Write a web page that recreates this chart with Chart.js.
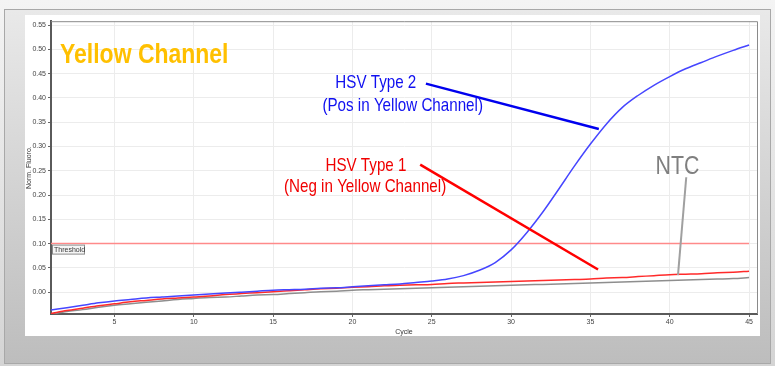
<!DOCTYPE html>
<html>
<head>
<meta charset="utf-8">
<script src="https://cdn.jsdelivr.net/npm/chart.js@4.4.0/dist/chart.umd.min.js"></script>
<style>
  body { margin:0; width:775px; height:366px; background:linear-gradient(#f4f4f4,#d4d4d4); position:relative; overflow:hidden; }
  #panel { position:absolute; left:4px; top:9px; width:767px; height:355px; background:linear-gradient(#e9e9e9,#bdbdbd); border:1px solid #a8a8a8; box-sizing:border-box; }
  #box { position:absolute; left:25px; top:15px; width:735px; height:321px; background:#fff; }
</style>
</head>
<body>
<div id="panel"></div>
<div id="box"><canvas id="chart" width="735" height="321"></canvas></div>
<script>
var cycles = [1, 2, 3, 4, 5, 6, 7, 8, 9, 10, 11, 12, 13, 14, 15, 16, 17, 18, 19, 20,
    21, 22, 23, 24, 25, 26, 27, 28, 29, 30, 31, 32, 33, 34, 35, 36, 37, 38, 39, 40,
    41, 42, 43, 44, 45];

// HSV Type 2 - positive in yellow channel
var hsv2 = [-0.037, -0.032, -0.027, -0.022, -0.018, -0.015, -0.012, -0.010, -0.008, -0.006,
    -0.004, -0.002, 0.000, 0.002, 0.004, 0.005, 0.006, 0.008, 0.009, 0.011,
    0.013, 0.015, 0.017, 0.020, 0.023, 0.027, 0.034, 0.045, 0.061, 0.087,
    0.123, 0.165, 0.212, 0.260, 0.305, 0.346, 0.380, 0.405, 0.426, 0.444,
    0.460, 0.473, 0.486, 0.498, 0.509];

// HSV Type 1 - negative
var hsv1 = [-0.044, -0.038, -0.033, -0.028, -0.024, -0.020, -0.017, -0.014, -0.012, -0.010,
    -0.008, -0.005, -0.003, -0.001, 0.001, 0.003, 0.005, 0.007, 0.008, 0.010,
    0.011, 0.013, 0.014, 0.015, 0.016, 0.018, 0.019, 0.020, 0.021, 0.022,
    0.023, 0.024, 0.025, 0.026, 0.027, 0.029, 0.030, 0.032, 0.034, 0.036,
    0.037, 0.038, 0.040, 0.041, 0.043];

// no template control
var ntc = [-0.045, -0.040, -0.036, -0.031, -0.027, -0.024, -0.021, -0.018, -0.015, -0.013,
    -0.011, -0.010, -0.008, -0.006, -0.005, -0.003, -0.001, 0.001, 0.002, 0.004,
    0.005, 0.006, 0.007, 0.008, 0.009, 0.010, 0.011, 0.012, 0.013, 0.014,
    0.015, 0.016, 0.017, 0.018, 0.019, 0.020, 0.021, 0.022, 0.023, 0.024,
    0.025, 0.026, 0.027, 0.028, 0.030];

var threshold = 0.10;
var yTicks = [0.00, 0.05, 0.10, 0.15, 0.20, 0.25, 0.30, 0.35, 0.40, 0.45, 0.50, 0.55];
var xTicks = [5, 10, 15, 20, 25, 30, 35, 40, 45];

function points(values) {
    return values.map((v, i) => ({x: cycles[i], y: v}));
}

// text drawn squeezed sideways, the original uses a narrow font
function narrowText(ctx, text, x, y, size, bold, color, align) {
    ctx.save();
    ctx.font = (bold ? 'bold ' : '') + size + 'px "Liberation Sans", Arial, sans-serif';
    ctx.fillStyle = color;
    ctx.textBaseline = 'alphabetic';
    ctx.translate(x, y);
    ctx.scale(0.82, 1);
    ctx.textAlign = align || 'left';
    ctx.fillText(text, 0, 0);
    ctx.restore();
}

var notes = {
    id: 'notes',
    beforeDatasetsDraw(chart) {
        let ctx = chart.ctx, a = chart.chartArea;
        ctx.save();
        ctx.strokeStyle = '#8a8a8a';
        ctx.lineWidth = 1;
        ctx.beginPath();
        ctx.moveTo(a.left, a.top + 0.5);
        ctx.lineTo(a.right + 0.5, a.top + 0.5);
        ctx.lineTo(a.right + 0.5, a.bottom);
        ctx.stroke();
        ctx.restore();
    },
    afterDatasetsDraw(chart) {
        let ctx = chart.ctx, a = chart.chartArea;
        let xs = chart.scales.x, ys = chart.scales.y;
        let px = c => xs.getPixelForValue(c);
        let py = v => ys.getPixelForValue(v);

        // threshold tag
        let ty = py(threshold);
        ctx.save();
        ctx.fillStyle = '#f6f6f6';
        ctx.strokeStyle = '#8c8c8c';
        ctx.lineWidth = 1;
        ctx.fillRect(a.left + 1, ty + 1, 33, 10);
        ctx.strokeRect(a.left + 1.5, ty + 1.5, 32, 9);
        ctx.fillStyle = '#333';
        ctx.font = '7px "Liberation Sans", Arial, sans-serif';
        ctx.textBaseline = 'middle';
        ctx.fillText('Threshold', a.left + 3, ty + 6.5);
        ctx.restore();

        narrowText(ctx, 'Yellow Channel', px(1.57), py(0.472), 28, true, '#ffc000');

        let pointers = [
            [24.63, 0.4295, 35.53, 0.336, '#0000ee', 2.5],
            [24.27, 0.2627, 35.48, 0.0466, '#ff0000', 2.5],
            [41.04, 0.2366, 40.52, 0.0349, '#a0a0a0', 2]
        ];
        pointers.forEach(p => {
            ctx.save();
            ctx.strokeStyle = p[4];
            ctx.lineWidth = p[5];
            ctx.beginPath();
            ctx.moveTo(px(p[0]), py(p[1]));
            ctx.lineTo(px(p[2]), py(p[3]));
            ctx.stroke();
            ctx.restore();
        });

        narrowText(ctx, 'HSV Type 2', px(18.92), py(0.4214), 18.5, false, '#1010f0');
        narrowText(ctx, '(Pos in Yellow Channel)', px(18.11), py(0.3735), 18.5, false, '#1010f0');
        narrowText(ctx, 'HSV Type 1', px(18.30), py(0.2489), 18.5, false, '#f00000');
        narrowText(ctx, '(Neg in Yellow Channel)', px(25.91), py(0.2058), 18.5, false, '#f00000', 'right');
        narrowText(ctx, 'NTC', px(39.11), py(0.2436), 26, false, '#7f7f7f');
    }
};

var tickFont = {family: '"Liberation Sans", Arial, sans-serif', size: 7};

var ctx = document.getElementById('chart');

var myChart = new Chart(ctx, {
    type: 'line',
    data: {
        datasets: [{
            label: 'HSV Type 2',
            data: points(hsv2),
            borderColor: '#4646ff',
            borderWidth: 1.5
        }, {
            label: 'HSV Type 1',
            data: points(hsv1),
            borderColor: '#ff2a2a',
            borderWidth: 1.5
        }, {
            label: 'NTC',
            data: points(ntc),
            borderColor: '#8e8e8e',
            borderWidth: 1.5
        }, {
            label: 'Threshold',
            data: [{x: cycles[0], y: threshold}, {x: cycles[cycles.length - 1], y: threshold}],
            borderColor: '#ff8a8a',
            borderWidth: 1.5
        }]
    },
    options: {
        responsive: false,
        animation: false,
        cubicInterpolationMode: 'monotone',
        elements: {point: {radius: 0}},
        layout: {padding: {top: 5, right: 3, left: 0, bottom: 0}},
        plugins: {
            legend: {display: false},
            tooltip: {enabled: false}
        },
        scales: {
            x: {
                type: 'linear',
                min: 1,
                max: 45.5,
                afterBuildTicks: s => { s.ticks = xTicks.map(v => ({value: v})); },
                afterFit: s => { s.height = 22; },
                ticks: {font: tickFont, color: '#444', padding: 1, maxRotation: 0, autoSkip: false},
                grid: {color: '#ececec', tickColor: '#666', tickLength: 3},
                border: {color: '#5a5a5a', width: 2},
                title: {display: true, text: 'Cycle', font: tickFont, color: '#333', padding: {top: 0, bottom: 0}}
            },
            y: {
                min: -0.045,
                max: 0.558,
                afterBuildTicks: s => { s.ticks = yTicks.map(v => ({value: v})); },
                afterFit: s => { s.width = 26; },
                ticks: {font: tickFont, color: '#444', padding: 2, callback: v => v.toFixed(2)},
                grid: {color: '#ececec', tickColor: '#666', tickLength: 3},
                border: {color: '#5a5a5a', width: 2},
                title: {display: true, text: 'Norm. Fluoro.', font: tickFont, color: '#333', padding: {top: 0, bottom: 0}}
            }
        }
    },
    plugins: [notes]
});
</script>
</body>
</html>
